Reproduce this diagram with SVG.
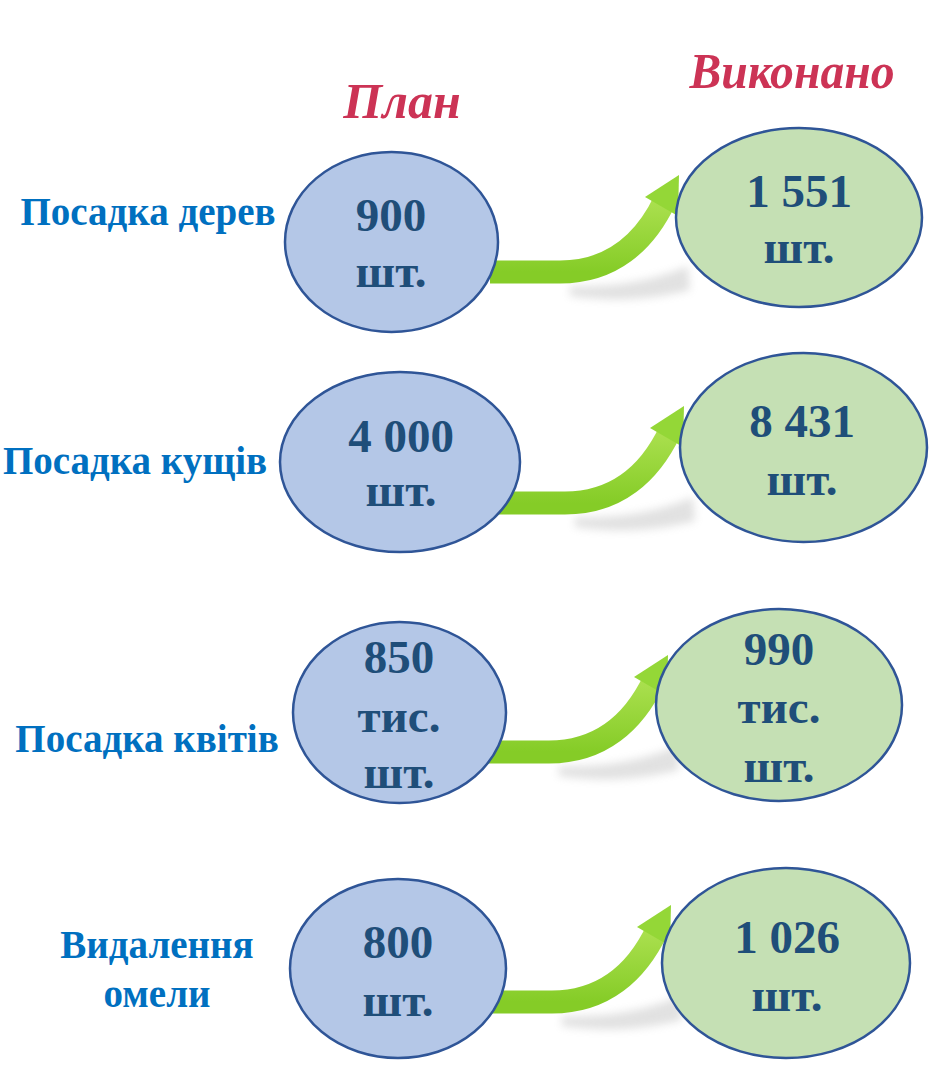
<svg xmlns="http://www.w3.org/2000/svg" width="935" height="1066" viewBox="0 0 935 1066">
<style>
.plan{fill:#B4C7E7;stroke:#2F5597;stroke-width:2.5}
.done{fill:#C5E0B4;stroke:#2F5597;stroke-width:2.5}
.num{font-family:"Liberation Serif","Times New Roman",serif;font-weight:bold;font-size:47px;fill:#1F4E79;text-anchor:middle}
.lbl{font-family:"Liberation Serif","Times New Roman",serif;font-weight:bold;font-size:39px;fill:#0070C0;text-anchor:middle}
.ttl{font-family:"Liberation Serif","Times New Roman",serif;font-weight:bold;font-style:italic;font-size:50px;fill:#CC3355;text-anchor:middle}
.body{fill:none;stroke:url(#gb);stroke-width:23}
.head{fill:#94D737}
.shadow{fill:#8a8a8a;opacity:0.25;filter:url(#blur)}
</style>
<defs>
<linearGradient id="gb" x1="0" y1="0" x2="0" y2="1">
<stop offset="0" stop-color="#ABE04F"/>
<stop offset="1" stop-color="#85CC27"/>
</linearGradient>
<filter id="blur" x="-20%" y="-50%" width="140%" height="200%"><feGaussianBlur stdDeviation="4"/></filter>
<g id="arrow">
<path class="shadow" d="M80,14 C130,16 170,6 198,-6 L200,18 C160,28 125,30 80,24 Z"/>
<path class="body" d="M0,0 H70 C122,0 155,-30 175,-72"/>
<path class="head" d="M155,-75 L189,-97 L188,-56 Z"/>
</g>
</defs>
<text class="ttl" x="402" y="118">План</text>
<text class="ttl" x="792" y="88" textLength="205" lengthAdjust="spacingAndGlyphs">Виконано</text>
<g id="connectors">
<use href="#arrow" x="490" y="272"/>
<use href="#arrow" x="495" y="503"/>
<use href="#arrow" x="479" y="752"/>
<use href="#arrow" x="482" y="1002"/>
</g>
<g id="row1-label"><text class="lbl" x="148" y="225">Посадка дерев</text></g>
<g id="row2-label"><text class="lbl" x="135" y="474">Посадка кущів</text></g>
<g id="row3-label"><text class="lbl" x="147" y="752">Посадка квітів</text></g>
<g id="row4-label"><text class="lbl" x="157" y="958">Видалення</text><text class="lbl" x="157" y="1007">омели</text></g>
<g id="plan1"><ellipse class="plan" cx="391.5" cy="242" rx="106.5" ry="90"/><text class="num" x="391" y="231">900</text><text class="num" x="391" y="287">шт.</text></g>
<g id="done1"><ellipse class="done" cx="799" cy="217.5" rx="123" ry="89.5"/><text class="num" x="799" y="207">1 551</text><text class="num" x="799" y="263">шт.</text></g>
<g id="plan2"><ellipse class="plan" cx="400" cy="462" rx="120" ry="90"/><text class="num" x="401" y="452">4 000</text><text class="num" x="401" y="506">шт.</text></g>
<g id="done2"><ellipse class="done" cx="803.5" cy="447.5" rx="123.5" ry="94.5"/><text class="num" x="802" y="437">8 431</text><text class="num" x="802" y="495">шт.</text></g>
<g id="plan3"><ellipse class="plan" cx="399.5" cy="712.5" rx="106.5" ry="90.5"/><text class="num" x="399" y="673">850</text><text class="num" x="399" y="732">тис.</text><text class="num" x="399" y="788">шт.</text></g>
<g id="done3"><ellipse class="done" cx="779" cy="705" rx="123" ry="96"/><text class="num" x="779" y="665">990</text><text class="num" x="779" y="723">тис.</text><text class="num" x="779" y="782">шт.</text></g>
<g id="plan4"><ellipse class="plan" cx="398" cy="968.5" rx="108" ry="89.5"/><text class="num" x="398" y="958">800</text><text class="num" x="398" y="1016">шт.</text></g>
<g id="done4"><ellipse class="done" cx="786" cy="963" rx="124" ry="95"/><text class="num" x="787" y="953">1 026</text><text class="num" x="787" y="1011">шт.</text></g>
</svg>
